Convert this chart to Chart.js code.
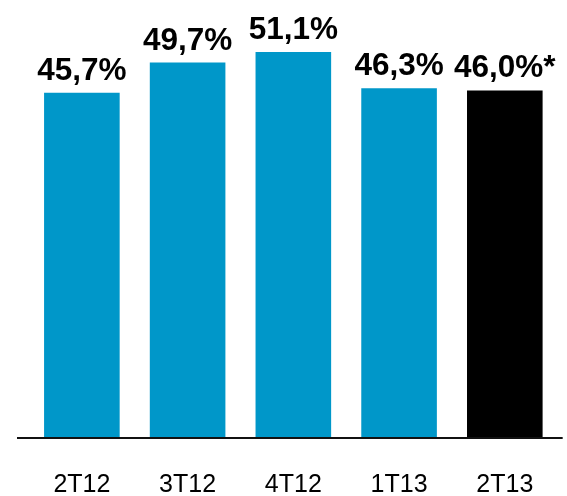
<!DOCTYPE html>
<html>
<head>
<meta charset="utf-8">
<script src="https://cdn.jsdelivr.net/npm/chart.js@4/dist/chart.umd.min.js"></script>
<style>
  html, body { margin: 0; padding: 0; background: #ffffff; }
  #wrap { width: 567px; height: 496px; position: relative; }
</style>
</head>
<body>
<div id="wrap"><canvas id="c" width="567" height="496"></canvas></div>
<script>
// Quarterly ratio (%) per period
const categories = ['2T12', '3T12', '4T12', '1T13', '2T13'];
const values = [45.7, 49.7, 51.1, 46.3, 46.0];
const labelSuffix = ['', '', '', '', '*'];
const barColors = ['#0097C9', '#0097C9', '#0097C9', '#0097C9', '#000000'];

const FONT = "'Liberation Sans', Arial, Helvetica, sans-serif";

// Bold value labels above each bar
const valueLabels = {
  id: 'valueLabels',
  afterDatasetsDraw(chart) {
    const ctx = chart.ctx;
    const meta = chart.getDatasetMeta(0);
    ctx.save();
    ctx.font = 'bold 31.5px ' + FONT;
    ctx.fillStyle = '#000000';
    ctx.textAlign = 'center';
    ctx.textBaseline = 'alphabetic';
    meta.data.forEach((bar, i) => {
      const txt = values[i].toFixed(1).replace('.', ',') + '%' + labelSuffix[i];
      ctx.fillText(txt, bar.x, bar.y - 13);
    });
    ctx.restore();
  }
};

// Baseline under the bars, running slightly past the plot area
const baseLine = {
  id: 'baseLine',
  afterDatasetsDraw(chart) {
    const ctx = chart.ctx;
    const y = chart.scales.y.getPixelForValue(0);
    const area = chart.chartArea;
    ctx.save();
    ctx.fillStyle = '#111111';
    ctx.fillRect(area.left - 12, y, area.right - area.left + 17, 2);
    ctx.restore();
  }
};

new Chart(document.getElementById('c'), {
  type: 'bar',
  data: {
    labels: categories,
    datasets: [{
      data: values,
      backgroundColor: barColors,
      borderWidth: 0,
      barPercentage: 0.715,
      categoryPercentage: 1.0
    }]
  },
  options: {
    responsive: false,
    animation: false,
    devicePixelRatio: 1,
    layout: { padding: { left: 29, right: 7, top: 0, bottom: 0 } },
    plugins: {
      legend: { display: false },
      tooltip: { enabled: false }
    },
    scales: {
      x: {
        grid: { display: false, drawTicks: false },
        border: { display: false },
        ticks: {
          color: '#000000',
          padding: 33,
          font: { family: FONT, size: 25 }
        },
        afterFit(scale) { scale.height = 59; }
      },
      y: {
        display: false,
        min: 0,
        max: 58
      }
    }
  },
  plugins: [valueLabels, baseLine]
});
</script>
</body>
</html>
